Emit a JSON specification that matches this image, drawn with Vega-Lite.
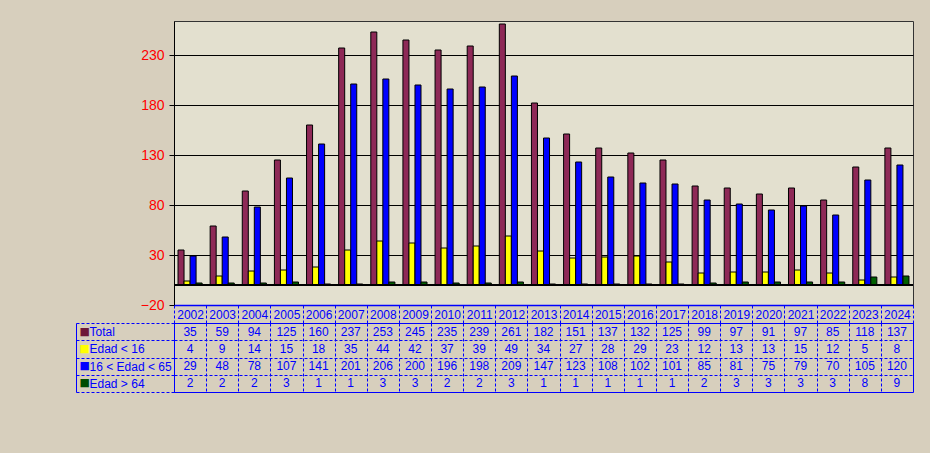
{
  "$schema": "https://vega.github.io/schema/vega-lite/v6.json",
  "background": "#D7CFBD",
  "padding": {"left": 75, "top": 20, "right": 18, "bottom": 62},
  "config": {"font": "Liberation Sans"},
  "datasets": {
    "d": [
      {"year":"2002","serie":"Total","n":35},{"year":"2003","serie":"Total","n":59},{"year":"2004","serie":"Total","n":94},{"year":"2005","serie":"Total","n":125},{"year":"2006","serie":"Total","n":160},{"year":"2007","serie":"Total","n":237},{"year":"2008","serie":"Total","n":253},{"year":"2009","serie":"Total","n":245},{"year":"2010","serie":"Total","n":235},{"year":"2011","serie":"Total","n":239},{"year":"2012","serie":"Total","n":261},{"year":"2013","serie":"Total","n":182},{"year":"2014","serie":"Total","n":151},{"year":"2015","serie":"Total","n":137},{"year":"2016","serie":"Total","n":132},{"year":"2017","serie":"Total","n":125},{"year":"2018","serie":"Total","n":99},{"year":"2019","serie":"Total","n":97},{"year":"2020","serie":"Total","n":91},{"year":"2021","serie":"Total","n":97},{"year":"2022","serie":"Total","n":85},{"year":"2023","serie":"Total","n":118},{"year":"2024","serie":"Total","n":137},
      {"year":"2002","serie":"Edad < 16","n":4},{"year":"2003","serie":"Edad < 16","n":9},{"year":"2004","serie":"Edad < 16","n":14},{"year":"2005","serie":"Edad < 16","n":15},{"year":"2006","serie":"Edad < 16","n":18},{"year":"2007","serie":"Edad < 16","n":35},{"year":"2008","serie":"Edad < 16","n":44},{"year":"2009","serie":"Edad < 16","n":42},{"year":"2010","serie":"Edad < 16","n":37},{"year":"2011","serie":"Edad < 16","n":39},{"year":"2012","serie":"Edad < 16","n":49},{"year":"2013","serie":"Edad < 16","n":34},{"year":"2014","serie":"Edad < 16","n":27},{"year":"2015","serie":"Edad < 16","n":28},{"year":"2016","serie":"Edad < 16","n":29},{"year":"2017","serie":"Edad < 16","n":23},{"year":"2018","serie":"Edad < 16","n":12},{"year":"2019","serie":"Edad < 16","n":13},{"year":"2020","serie":"Edad < 16","n":13},{"year":"2021","serie":"Edad < 16","n":15},{"year":"2022","serie":"Edad < 16","n":12},{"year":"2023","serie":"Edad < 16","n":5},{"year":"2024","serie":"Edad < 16","n":8},
      {"year":"2002","serie":"16 < Edad < 65","n":29},{"year":"2003","serie":"16 < Edad < 65","n":48},{"year":"2004","serie":"16 < Edad < 65","n":78},{"year":"2005","serie":"16 < Edad < 65","n":107},{"year":"2006","serie":"16 < Edad < 65","n":141},{"year":"2007","serie":"16 < Edad < 65","n":201},{"year":"2008","serie":"16 < Edad < 65","n":206},{"year":"2009","serie":"16 < Edad < 65","n":200},{"year":"2010","serie":"16 < Edad < 65","n":196},{"year":"2011","serie":"16 < Edad < 65","n":198},{"year":"2012","serie":"16 < Edad < 65","n":209},{"year":"2013","serie":"16 < Edad < 65","n":147},{"year":"2014","serie":"16 < Edad < 65","n":123},{"year":"2015","serie":"16 < Edad < 65","n":108},{"year":"2016","serie":"16 < Edad < 65","n":102},{"year":"2017","serie":"16 < Edad < 65","n":101},{"year":"2018","serie":"16 < Edad < 65","n":85},{"year":"2019","serie":"16 < Edad < 65","n":81},{"year":"2020","serie":"16 < Edad < 65","n":75},{"year":"2021","serie":"16 < Edad < 65","n":79},{"year":"2022","serie":"16 < Edad < 65","n":70},{"year":"2023","serie":"16 < Edad < 65","n":105},{"year":"2024","serie":"16 < Edad < 65","n":120},
      {"year":"2002","serie":"Edad > 64","n":2},{"year":"2003","serie":"Edad > 64","n":2},{"year":"2004","serie":"Edad > 64","n":2},{"year":"2005","serie":"Edad > 64","n":3},{"year":"2006","serie":"Edad > 64","n":1},{"year":"2007","serie":"Edad > 64","n":1},{"year":"2008","serie":"Edad > 64","n":3},{"year":"2009","serie":"Edad > 64","n":3},{"year":"2010","serie":"Edad > 64","n":2},{"year":"2011","serie":"Edad > 64","n":2},{"year":"2012","serie":"Edad > 64","n":3},{"year":"2013","serie":"Edad > 64","n":1},{"year":"2014","serie":"Edad > 64","n":1},{"year":"2015","serie":"Edad > 64","n":1},{"year":"2016","serie":"Edad > 64","n":1},{"year":"2017","serie":"Edad > 64","n":1},{"year":"2018","serie":"Edad > 64","n":2},{"year":"2019","serie":"Edad > 64","n":3},{"year":"2020","serie":"Edad > 64","n":3},{"year":"2021","serie":"Edad > 64","n":3},{"year":"2022","serie":"Edad > 64","n":3},{"year":"2023","serie":"Edad > 64","n":8},{"year":"2024","serie":"Edad > 64","n":9}
    ]
  },
  "data": {"name": "d"},
  "bounds": "flush",
  "spacing": 18,
  "vconcat": [
    {
      "width": 739,
      "height": 284,
      "view": {"fill": "#E3E0CF", "stroke": "#333333", "strokeWidth": 1},
      "layer": [
        {
          "mark": {"type": "bar", "stroke": "#000000", "strokeWidth": 1},
          "encoding": {
            "x": {"field": "year", "type": "nominal", "scale": {"paddingInner": 0.25, "paddingOuter": 0.125},
                  "axis": {"labels": false, "ticks": false, "title": null, "grid": false, "domainColor": "#0000FF", "domainWidth": 1.5}},
            "xOffset": {"field": "serie", "type": "nominal", "sort": ["Total", "Edad < 16", "16 < Edad < 65", "Edad > 64"]},
            "y": {"field": "n", "type": "quantitative", "stack": null,
                  "scale": {"domain": [-20, 264], "nice": false, "zero": false},
                  "axis": {"title": null, "values": [-20, 30, 80, 130, 180, 230], "labelColor": "#FF0000", "labelFontSize": 14, "labelPadding": 5, "tickSize": 5, "tickColor": "#000000", "domainColor": "#000000", "gridColor": "#000000", "gridOpacity": 1, "gridWidth": 1, "minExtent": 98}},
            "color": {"field": "serie", "type": "nominal", "legend": null,
                      "scale": {"domain": ["Total", "Edad < 16", "16 < Edad < 65", "Edad > 64"], "range": ["#8E2957", "#FFFF00", "#0000FF", "#006000"]}}
          }
        },
        {
          "mark": {"type": "rule", "color": "#000000", "strokeWidth": 1},
          "encoding": {"y": {"datum": 0}}
        }
      ]
    },
    {
      "width": 739,
      "height": 69,
      "view": {"fill": null, "stroke": "#0000FF", "strokeWidth": 1},
      "layer": [
        {
          "mark": {"type": "text", "color": "#0000FF", "fontSize": 12, "font": "Liberation Sans"},
          "encoding": {
            "x": {"field": "year", "type": "nominal", "scale": {"paddingInner": 0, "paddingOuter": 0},
                  "axis": {"orient": "top", "title": null, "labelAngle": 0, "labelColor": "#0000FF", "labelFontSize": 12, "labelBaseline": "middle", "labelPadding": -9,
                           "tickSize": 18, "tickBand": "extent", "tickColor": "#0000FF", "tickDash": [3, 2],
                           "grid": true, "gridColor": "#0000FF", "gridOpacity": 1, "gridDash": [3, 2], "domainColor": "#0000FF"}},
            "y": {"field": "serie", "type": "nominal", "sort": ["Total", "Edad < 16", "16 < Edad < 65", "Edad > 64"],
                  "axis": {"orient": "left", "title": null, "labelAlign": "left", "labelBaseline": "middle", "labelPadding": -13, "labelColor": "#0000FF", "labelFontSize": 12,
                           "tickSize": 98, "tickBand": "extent", "tickColor": "#0000FF", "tickDash": [3, 2],
                           "grid": true, "gridColor": "#0000FF", "gridOpacity": 1, "gridDash": [3, 2], "domainColor": "#0000FF"}},
            "text": {"field": "n", "type": "quantitative"}
          }
        },
        {
          "mark": {"type": "rect", "opacity": 0},
          "encoding": {
            "x": {"field": "year", "type": "nominal"},
            "y": {"field": "serie", "type": "nominal", "sort": ["Total", "Edad < 16", "16 < Edad < 65", "Edad > 64"],
                  "axis": {"orient": "left", "title": null, "offset": 98, "ticks": false, "grid": false, "labelExpr": "'■'", "labelFont": "DejaVu Sans", "labelFontSize": 11,
                           "labelAlign": "left", "labelBaseline": "middle", "labelPadding": -3, "domainColor": "#0000FF",
                           "labelColor": {"condition": [
                             {"test": "datum.value == 'Total'", "value": "#6E1838"},
                             {"test": "datum.value == 'Edad < 16'", "value": "#FFFF00"},
                             {"test": "datum.value == '16 < Edad < 65'", "value": "#0000FF"}
                           ], "value": "#004D00"}}}
          }
        }
      ],
      "resolve": {"axis": {"y": "independent"}}
    }
  ]
}
